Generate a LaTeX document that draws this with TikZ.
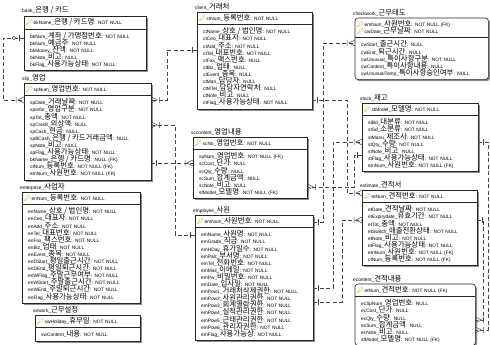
\documentclass[tikz,border=0pt]{standalone}
\usepackage{fontspec}
\setmainfont{Liberation Sans}
\newfontfamily\krfont{Noto Sans CJK KR}
\newfontfamily\emofont{Noto Emoji}
\usetikzlibrary{shadows,backgrounds,positioning}

\definecolor{keygold}{RGB}{200,150,10}
\definecolor{relgray}{RGB}{70,70,70}

\newcommand{\rowfont}{\fontsize{4.8}{7.1}\selectfont\lineskiplimit=-10pt\lineskip=0pt}
\newcommand{\ko}[1]{{\krfont\fontsize{7.4}{7.1}\selectfont #1}}
\newcommand{\at}[3]{\mbox{#1\_\ko{#2}#3}}
\newcommand{\pk}{{\emofont\fontsize{6}{6}\selectfont\color{keygold}🔑}\hspace{0.4pt}}

% \erent[frame opts]{name}{top left}{width}{title}{keys}{fields}
\newcommand{\erent}[7][]{%
  \pgfmathsetmacro\erkw{#4-3}\pgfmathsetmacro\erfw{#4-12}%
  \node[erkey, text width=\erkw pt] (#2k) at #3 {#6};
  \node[erfield, text width=\erfw pt] (#2f) at (#2k.south west) {#7};
  \node[ertitle] (#2t) at ([xshift=-2pt,yshift=1.5pt]#2k.north west) {#5};
  \begin{pgfonlayer}{background}
    \draw[erframe,#1] (#2k.north west) rectangle (#2f.south east);
  \end{pgfonlayer}
  \draw[erline] (#2k.south west) -- (#2k.south east);
}

\tikzset{
  erkey/.style={anchor=north west, inner xsep=1.5pt, inner ysep=2.5pt, align=left, font=\rowfont},
  erfield/.style={anchor=north west, inner xsep=6pt, inner ysep=3pt, align=left, font=\rowfont},
  ertitle/.style={anchor=south west, inner sep=0pt, font=\rowfont},
  erframe/.style={draw=black!85, fill=white, line width=0.6pt,
    drop shadow={shadow xshift=1.6pt, shadow yshift=-1.6pt, fill=black!45, opacity=1}},
  erline/.style={draw=black!85, line width=0.5pt},
  rel/.style={draw=relgray, dash pattern=on 4pt off 2.5pt, line width=0.5pt},
  one/.pic={\draw[relgray, line width=0.5pt] (-5,-3) -- (-5,3);},
  zeroone/.pic={\draw[relgray, line width=0.5pt] (-5,-3) -- (-5,3);
    \draw[relgray, line width=0.5pt, fill=white] (-10,0) circle (1.8);},
  many/.pic={\draw[relgray, line width=0.5pt] (0,-3) -- (-6,0) -- (0,3) (-8,-3) -- (-8,3);}
}

\begin{document}
\begin{tikzpicture}[x=1pt, y=-1pt]
\useasboundingbox (0,0) rectangle (490,345);

\erent{bank}{(24,16)}{122}{\at{bank}{은행 / 카드}{}}
  {\pk\at{bkName}{은행 / 카드명}{: NOT NULL}}
  {\at{bkNum}{계좌 / 가맹점번호}{: NOT NULL}\\
   \at{bkNum}{예금주}{: NOT NULL}\\
   \at{bkMoney}{잔액}{: NOT NULL}\\
   \at{bkNote}{비고}{: NULL}\\
   \at{bkFlag}{사용가능상태}{: NOT NULL}}

\erent{slip}{(24,83)}{127}{\at{slip}{영업}{}}
  {\pk\at{spNum}{영업번호}{: NOT NULL}}
  {\at{spDate}{거래날짜}{: NOT NULL}\\
   \at{spInfor}{영업구분}{: NOT NULL}\\
   \at{spTot}{총액}{: NOT NULL}\\
   \at{spCredit}{외상액}{: NULL}\\
   \at{spCash}{현금}{: NULL}\\
   \at{spBCash}{은행 / 카드거래금액}{: NULL}\\
   \at{spNote}{비고}{: NULL}\\
   \at{spFlag}{사용가능상태}{: NOT NULL}\\
   \at{bkName}{은행 / 카드명}{: NULL (FK)}\\
   \at{ctNum}{등록번호}{: NOT NULL (FK)}\\
   \at{emNum}{사원번호}{: NOT NULL (FK)}}

\erent{enterprise}{(22,192)}{118}{\at{enterprise}{사업자}{}}
  {\pk\at{enNum}{등록번호}{: NOT NULL}}
  {\at{enName}{상호 / 법인명}{: NOT NULL}\\
   \at{enCeo}{대표자}{: NOT NULL}\\
   \at{enAdd}{주소}{: NOT NULL}\\
   \at{enTel}{대표번호}{: NOT NULL}\\
   \at{enFax}{팩스번호}{: NOT NULL}\\
   \at{enBiz}{업태}{: NOT NULL}\\
   \at{enEvent}{종목}{: NOT NULL}\\
   \at{enDStart}{평일출근시간}{: NOT NULL}\\
   \at{enDEnd}{평일퇴근시간}{: NOT NULL}\\
   \at{enWFlag}{주말근무여부}{: NOT NULL}\\
   \at{enWStart}{주말출근시간}{: NOT NULL}\\
   \at{enWEnd}{주말퇴근시간}{: NOT NULL}\\
   \at{enFlag}{사용가능상태}{: NOT NULL}}

\erent{sework}{(35,315)}{105}{\at{sework}{근무설정}{}}
  {\pk\at{swHoliday}{휴무일}{: NOT NULL}}
  {\at{swContent}{내용}{: NOT NULL}}

\erent{client}{(197,12)}{115}{\at{client}{거래처}{}}
  {\pk\at{ctNum}{등록번호}{: NOT NULL}}
  {\at{ctName}{상호 / 법인명}{: NOT NULL}\\
   \at{ctCeo}{대표자}{: NOT NULL}\\
   \at{ctAdd}{주소}{: NOT NULL}\\
   \at{ctTel}{대표번호}{: NOT NULL}\\
   \at{ctFax}{팩스번호}{: NULL}\\
   \at{ctBiz}{업태}{: NULL}\\
   \at{ctEvent}{종목}{: NULL}\\
   \at{ctMan}{담당자}{: NULL}\\
   \at{ctMTel}{담당자연락처}{: NULL}\\
   \at{ctNote}{비고}{: NULL}\\
   \at{ctFlag}{사용가능상태}{: NOT NULL}}

\erent{scc}{(193,137)}{114}{\at{sccontent}{영업내용}{}}
  {\pk\at{scNo}{영업번호}{: NOT NULL}}
  {\at{spNum}{영업번호}{: NOT NULL (FK)}\\
   \at{scCost}{단가}{: NULL}\\
   \at{scQty}{수량}{: NULL}\\
   \at{scSum}{합계금액}{: NULL}\\
   \at{scNote}{비고}{: NULL}\\
   \at{stModel}{모델명}{: NOT NULL (FK)}}

\erent{employee}{(195,215)}{118}{\at{employee}{사원}{}}
  {\pk\at{emNum}{사원번호}{: NOT NULL}}
  {\at{emName}{사원명}{: NOT NULL}\\
   \at{emGrade}{직급}{: NOT NULL}\\
   \at{emHDay}{휴가일수}{: NOT NULL}\\
   \at{emPart}{부서명}{: NOT NULL}\\
   \at{emTel}{전화번호}{: NOT NULL}\\
   \at{emMail}{이메일}{: NOT NULL}\\
   \at{emPw}{비밀번호}{: NOT NULL}\\
   \at{emDate}{입사일}{: NOT NULL}\\
   \at{emPow1}{거래처삭제권한}{: NOT NULL}\\
   \at{emPow2}{사원관리권한}{: NOT NULL}\\
   \at{emPow3}{회계열람권한}{: NOT NULL}\\
   \at{emPow4}{실적관리권한}{: NOT NULL}\\
   \at{emPow5}{근태관리권한}{: NOT NULL}\\
   \at{emPow6}{관리자권한}{: NOT NULL}\\
   \at{emFlag}{사용가능상}{: NOT NULL}}

\erent[rounded corners=3pt]{checkwork}{(355,18)}{133}{\at{checkwork}{근무태도}{}}
  {\pk\at{emNum}{사원번호}{: NOT NULL (FK)}\\
   \pk\at{cwDate}{근무날짜}{: NOT NULL}}
  {\at{cwStart}{출근시간}{: NULL}\\
   \at{cwEnd}{퇴근시간}{: NULL}\\
   \at{cwUnusual}{특이사항구분}{: NOT NULL}\\
   \at{cwContent}{특이사항내용}{: NULL}\\
   \at{cwUnusualTemp}{특이사항승인여부}{: NULL}}

\erent{stock}{(362,103)}{116}{\at{stock}{재고}{}}
  {\pk\at{stModel}{모델명}{: NOT NULL}}
  {\at{stBd}{대분류}{: NOT NULL}\\
   \at{stSd}{소분류}{: NOT NULL}\\
   \at{stManu}{제조사}{: NOT NULL}\\
   \at{stQty}{수량}{: NOT NULL}\\
   \at{stNote}{비고}{: NULL}\\
   \at{stFlag}{사용가능상태}{: NOT NULL}\\
   \at{emNum}{사원번호}{: NOT NULL (FK)}}

\erent{estimate}{(362,190)}{115}{\at{estimate}{견적서}{}}
  {\pk\at{etNum}{견적번호}{: NOT NULL}}
  {\at{etDate}{견적날짜}{: NOT NULL}\\
   \at{etExpirydate}{유효기간}{: NOT NULL}\\
   \at{etTot}{총액}{: NOT NULL}\\
   \at{etSwitch}{매출전환상태}{: NOT NULL}\\
   \at{etNote}{비고}{: NOT NULL}\\
   \at{etFlag}{사용가능상태}{: NOT NULL}\\
   \at{emNum}{사원번호}{: NOT NULL (FK)}\\
   \at{ctNum}{등록번호}{: NOT NULL (FK)}}

\erent[rounded corners=3pt]{econtent}{(355,284)}{120}{\at{econtent}{견적내용}{}}
  {\pk\at{etNum}{견적번호}{: NOT NULL (FK)}}
  {\at{ecSpNum}{영업번호}{: NULL}\\
   \at{ecCost}{단가}{: NULL}\\
   \at{ecQty}{수량}{: NULL}\\
   \at{ecSum}{합계금액}{: NULL}\\
   \at{ecNote}{비고}{: NULL}\\
   \at{stModel}{모델명}{: NOT NULL (FK)}}

% relations
\draw[rel] (bankf.west |- 0,38) -- (3,38) |- (slipf.west |- 0,100);
\pic at (bankf.west |- 0,38) {zeroone};
\pic at (slipf.west |- 0,100) {many};

\draw[rel] (clientf.west |- 0,50) -| (167,100) -- (slipf.east |- 0,100);
\pic at (clientf.west |- 0,50) {one};
\pic[rotate=180] at (slipf.east |- 0,100) {many};

\draw[rel] (slipf.east |- 0,125) -| (175,235) -- (employeef.west |- 0,235);
\pic[rotate=180] at (slipf.east |- 0,125) {many};
\pic at (employeef.west |- 0,235) {one};

\draw[rel] (slipf.east |- 0,163) -- (sccf.west |- 0,163);
\pic[rotate=180] at (slipf.east |- 0,163) {one};
\pic at (sccf.west |- 0,163) {many};

\draw[rel] (employeek.east |- 0,222) -| (323,43) -- (checkworkf.west |- 0,43);
\pic[rotate=180] at (employeek.east |- 0,222) {one};
\pic at (checkworkf.west |- 0,43) {many};

\draw[rel] (employeef.east |- 0,288) -| (333,142) -- (stockf.west |- 0,142);
\pic[rotate=180] at (employeef.east |- 0,288) {one};
\pic at (stockf.west |- 0,142) {many};

\draw[rel] (employeef.east |- 0,302) -| (342,220) -- (estimatef.west |- 0,220);
\pic[rotate=180] at (employeef.east |- 0,302) {one};
\pic at (estimatef.west |- 0,220) {many};

\draw[rel] (clientf.east |- 0,100) -| (347,193) -- (estimatek.west |- 0,193);
\pic[rotate=180] at (clientf.east |- 0,100) {one};
\pic at (estimatek.west |- 0,193) {many};

\draw[rel] (stockf.west |- 0,155) -| (354,187) -- (sccf.east |- 0,187);
\pic at (stockf.west |- 0,155) {one};
\pic[rotate=180] at (sccf.east |- 0,187) {many};

\draw[rel] (stockf.east |- 0,142) -| (488,330) -- (econtentf.east |- 0,330);
\pic[rotate=180] at (stockf.east |- 0,142) {one};
\pic[rotate=180] at (econtentf.east |- 0,330) {many};

\draw[rel] (estimatef.east |- 0,220) -| (483,320) -- (econtentf.east |- 0,320);
\pic[rotate=180] at (estimatef.east |- 0,220) {one};
\pic[rotate=180] at (econtentf.east |- 0,320) {many};
\end{tikzpicture}
\end{document}
